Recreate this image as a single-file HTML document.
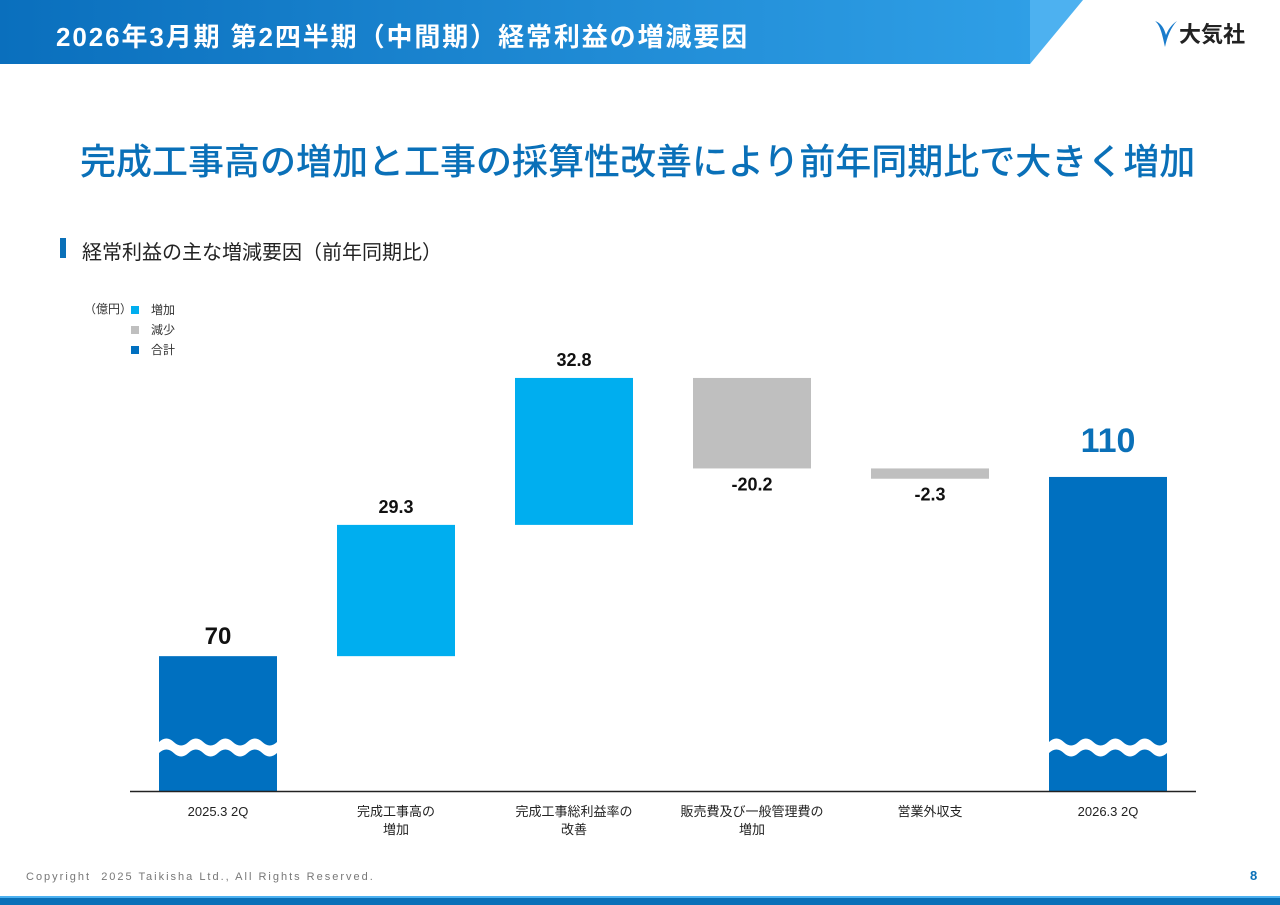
<!DOCTYPE html>
<html><head><meta charset="utf-8">
<style>
body{margin:0;width:1280px;height:905px;overflow:hidden;background:#fff;font-family:"Liberation Sans","Noto Sans CJK JP",sans-serif;position:relative}
.abs{position:absolute}
</style></head><body>
<svg class="abs" style="left:0;top:0" width="1280" height="70">
<defs><linearGradient id="hg" x1="0" x2="1"><stop offset="0" stop-color="#0a6fbd"/><stop offset="1" stop-color="#2f9fe6"/></linearGradient></defs>
<polygon points="0,0 1083,0 1030,64 0,64" fill="#4db1f0"/>
<rect x="0" y="0" width="1030" height="64" fill="url(#hg)"/>
</svg>
<div class="abs" style="left:56px;top:17px;font-size:26px;letter-spacing:1.9px;font-weight:bold;color:#fff;white-space:nowrap">2026年3月期 第2四半期（中間期）経常利益の増減要因</div>
<div class="abs" style="left:1153px;top:17px;white-space:nowrap;display:flex;align-items:center">
<svg width="26" height="32"><path d="M2,4 C7,8 9,16 12,30 C14,20 18,10 24,4 C18,8 15,13 13,18 C11,11 8,6 2,4Z" fill="#1a7ccc"/></svg>
<span style="font-size:22px;font-weight:bold;color:#222">大気社</span></div>
<div class="abs" style="left:80px;top:133px;font-size:36px;color:#0a70b8;white-space:nowrap;font-weight:500">完成工事高の増加と工事の採算性改善により前年同期比で大きく増加</div>
<div class="abs" style="left:60px;top:238px;width:6px;height:20px;background:#0a70b8"></div>
<div class="abs" style="left:82px;top:236px;font-size:20px;color:#222;white-space:nowrap">経常利益の主な増減要因（前年同期比）</div>
<div class="abs" style="left:84px;top:300px;font-size:12px;color:#333">（億円）</div>
<div class="abs" style="left:131px;top:300px;font-size:12px;color:#333;line-height:20px">
<div><span style="display:inline-block;width:8px;height:8px;background:#00aeef;margin-right:12px"></span>増加</div>
<div><span style="display:inline-block;width:8px;height:8px;background:#bfbfbf;margin-right:12px"></span>減少</div>
<div><span style="display:inline-block;width:8px;height:8px;background:#0070c0;margin-right:12px"></span>合計</div>
</div>
<svg id="chart" class="abs" style="left:0;top:0" width="1280" height="905"></svg>
<div class="abs" style="left:26px;top:871px;font-size:11px;color:#777;letter-spacing:2.0px">Copyright&nbsp; 2025 Taikisha Ltd., All Rights Reserved.</div>
<div class="abs" style="left:1250px;top:868px;font-size:13px;font-weight:bold;color:#0a70b8">8</div>
<div class="abs" style="left:0;top:896px;width:1280px;height:9px;background:#0a70b8;border-top:2px solid #4db1f0;box-sizing:border-box"></div>
<script>
const categories=["2025.3 2Q","完成工事高の\n増加","完成工事総利益率の\n改善","販売費及び一般管理費の\n増加","営業外収支","2026.3 2Q"];
const values=[70,29.3,32.8,-20.2,-2.3,110];
const types=["total","up","up","down","down","total"];
const labels=["70","29.3","32.8","-20.2","-2.3","110"];
const NS="http://www.w3.org/2000/svg";
const svg=document.getElementById('chart');
const base=791, unit=4.48, axisMin=39.9;
const y=v=>base-(v-axisMin)*unit;
const xc=i=>218+i*178;
const bw=118;
const colors={total:"#0070c0",up:"#00aeef",down:"#bfbfbf"};
function mk(t,a){const e=document.createElementNS(NS,t);for(const k in a)e.setAttribute(k,a[k]);svg.appendChild(e);return e;}
let run=0;
values.forEach((v,i)=>{
  let top,bot;
  if(types[i]==="total"){run=v;top=y(v);bot=base;}
  else{const s=run,e=run+v;run=e;top=y(Math.max(s,e));bot=y(Math.min(s,e));}
  const r=mk('rect',{x:xc(i)-bw/2,y:top,width:bw,height:bot-top,fill:colors[types[i]]});
  
  
  const big=types[i]==="total"&&i>0;
  const ly=types[i]==="down"?bot+22:(big?top-25:top-12);
  const t=mk('text',{x:xc(i),y:ly,'text-anchor':'middle','font-size':big?34:(i===0?24:18),'font-weight':'bold',fill:big?'#0a70b8':'#111'});
  t.textContent=labels[i];
  
  
  if(types[i]==="total"){
    const x0=xc(i)-bw/2,x1=xc(i)+bw/2;
    let d=`M${x0},742 `;
    for(let k=0;k<4;k++){const a=x0+k*bw/4;d+=`Q${a+bw/16},735 ${a+bw/8},742 Q${a+3*bw/16},749 ${a+bw/4},742 `;}
    d+=`L${x1},753 `;
    for(let k=3;k>=0;k--){const a=x0+k*bw/4;d+=`Q${a+3*bw/16},760 ${a+bw/8},753 Q${a+bw/16},746 ${a},753 `;}
    d+='Z';
    const w=mk('path',{d:d,fill:'#fff'});
    
    
  }
  const lines=categories[i].split('\n');
  lines.forEach((ln,j)=>{
    const c=mk('text',{x:xc(i),y:816+j*18,'text-anchor':'middle','font-size':13,fill:'#222'});
    c.textContent=ln;
    
    
  });
});
const ax=mk('line',{x1:130,x2:1196,y1:base+0.5,y2:base+0.5,stroke:'#222','stroke-width':1.5});


</script>
</body></html>
